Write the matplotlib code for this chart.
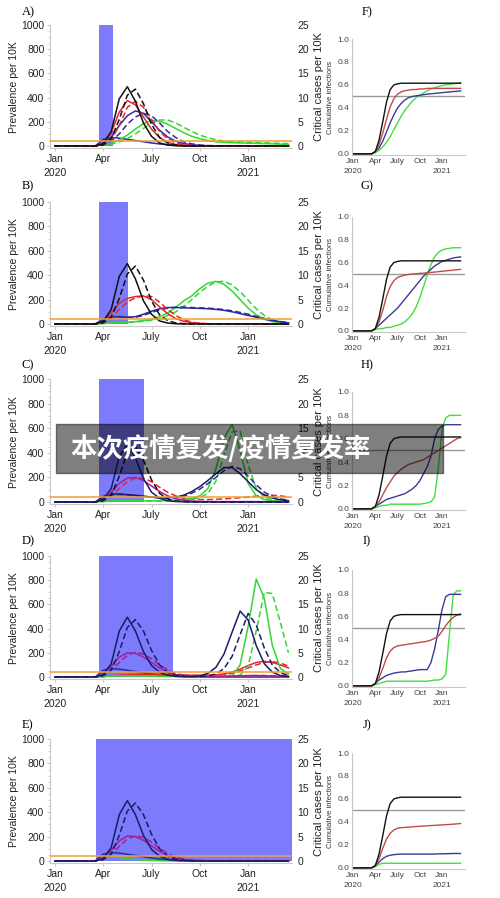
import numpy as np
import matplotlib
matplotlib.use('Agg')
import matplotlib.pyplot as plt
from matplotlib.patches import Rectangle
from matplotlib.ticker import MultipleLocator

plt.rcParams['font.family'] = ['Liberation Sans', 'DejaVu Sans']

# time in months since Jan 2020
months = [0, 2.5, 3.0, 3.5, 4.0, 4.5, 5.0, 5.5, 6.0, 6.5, 7.0, 7.5, 8.0, 8.5,
          9.0, 9.5, 10.0, 10.5, 11.0, 11.5, 12.0, 12.5, 13.0, 13.5, 14.0, 14.5]
tick_pos = [0, 3, 6, 9, 12]
tick_lab = ['Jan\n2020', 'Apr', 'July', 'Oct', 'Jan\n2021']

# lockdown windows (months)
lock_start = [2.76, 2.76, 2.76, 2.76, 2.55]
lock_end = [3.6, 4.53, 5.53, 7.33, 14.72]
lock_height = 1000
icu_capacity = 1.1  # critical cases per 10K

# ---- prevalence per 10K, panels A-E ----
a_blk = [0, 0, 20, 120, 390, 490, 370, 190, 80, 25, 8, 2, 0, 0, 0, 0, 0, 0, 0, 0, 0, 0, 0, 0, 0, 0]
a_blk_d = [0, 0, 10, 60, 220, 420, 470, 350, 180, 70, 25, 8, 2, 0, 0, 0, 0, 0, 0, 0, 0, 0, 0, 0, 0, 0]
a_red = [0, 0, 25, 110, 280, 375, 340, 240, 140, 70, 30, 12, 5, 2, 0, 0, 0, 0, 0, 0, 0, 0, 0, 0, 0, 0]
a_red_d = [0, 0, 10, 50, 170, 320, 370, 320, 220, 120, 60, 25, 10, 4, 1, 0, 0, 0, 0, 0, 0, 0, 0, 0, 0, 0]
a_nav = [0, 0, 20, 70, 170, 250, 290, 270, 200, 130, 75, 40, 20, 10, 5, 2, 0, 0, 0, 0, 0, 0, 0, 0, 0, 0]
a_nav_d = [0, 0, 10, 40, 100, 180, 240, 270, 250, 190, 120, 70, 35, 18, 8, 4, 2, 0, 0, 0, 0, 0, 0, 0, 0, 0]
a_grn = [0, 0, 10, 25, 50, 90, 140, 185, 210, 205, 180, 145, 110, 80, 60, 45, 35, 30, 27, 25, 23, 22, 20, 18, 15, 12]
a_grn_d = [0, 0, 5, 15, 35, 60, 100, 145, 190, 215, 215, 190, 155, 120, 90, 68, 52, 42, 36, 32, 30, 28, 26, 24, 22, 20]
small_blue = [0, 0, 55, 70, 65, 55, 45, 35, 25, 17, 11, 7, 4, 2, 1, 0, 0, 0, 0, 0, 0, 0, 0, 0, 0, 0]
small_green = [0, 0, 45, 40, 30, 20, 12, 7, 4, 2, 1, 0, 0, 0, 0, 0, 0, 0, 0, 0, 0, 0, 0, 0, 0, 0]

b_blk = [0, 0, 20, 120, 390, 495, 370, 190, 80, 25, 8, 2, 0, 0, 0, 0, 0, 0, 0, 0, 0, 0, 0, 0, 0, 0]
b_blk_d = [0, 0, 10, 55, 210, 410, 475, 360, 190, 75, 28, 9, 3, 0, 0, 0, 0, 0, 0, 0, 0, 0, 0, 0, 0, 0]
b_red = [0, 0, 20, 90, 170, 210, 225, 230, 200, 140, 85, 45, 22, 10, 5, 2, 0, 0, 0, 0, 0, 0, 0, 0, 0, 0]
b_red_d = [0, 0, 10, 50, 120, 180, 215, 230, 225, 180, 120, 70, 35, 15, 6, 2, 0, 0, 0, 0, 0, 0, 0, 0, 0, 0]
b_nav = [0, 0, 40, 60, 60, 55, 60, 80, 105, 125, 135, 135, 132, 130, 128, 125, 120, 112, 100, 85, 70, 55, 40, 28, 18, 10]
b_nav_d = [0, 0, 30, 55, 60, 55, 55, 70, 95, 115, 130, 138, 138, 135, 132, 130, 125, 118, 108, 95, 80, 62, 46, 32, 20, 12]
b_grn = [0, 0, 5, 10, 12, 15, 20, 28, 40, 60, 90, 135, 190, 230, 290, 335, 350, 325, 270, 200, 130, 75, 40, 20, 10, 5]
b_grn_d = [0, 0, 3, 7, 10, 12, 16, 22, 30, 45, 68, 100, 145, 200, 260, 310, 345, 350, 320, 265, 195, 125, 70, 35, 16, 8]

c_nav = [0, 0, 20, 110, 370, 470, 360, 190, 80, 30, 10, 4, 2, 0, 0, 0, 0, 0, 0, 0, 0, 0, 0, 0, 0, 0]
c_nav_d = [0, 0, 10, 55, 210, 400, 450, 340, 180, 70, 25, 8, 3, 0, 0, 0, 0, 0, 0, 0, 0, 0, 0, 0, 0, 0]
c_mag = [0, 0, 20, 80, 150, 195, 200, 175, 130, 85, 50, 28, 15, 8, 5, 4, 3, 3, 3, 3, 3, 3, 3, 3, 3, 3]
c_red_d = [0, 0, 10, 45, 110, 165, 195, 195, 165, 120, 80, 50, 30, 25, 20, 20, 22, 25, 30, 35, 40, 48, 55, 55, 50, 40]
c_blu = [0, 0, 45, 65, 65, 60, 55, 48, 40, 35, 35, 40, 55, 85, 125, 175, 230, 280, 280, 230, 165, 100, 58, 32, 18, 10]
c_blu_d = [0, 0, 35, 60, 62, 58, 52, 45, 38, 33, 32, 36, 48, 72, 105, 150, 200, 255, 290, 270, 210, 140, 80, 45, 25, 14]
c_grn = [0, 0, 5, 8, 10, 10, 10, 10, 10, 10, 12, 15, 20, 30, 50, 110, 270, 520, 630, 420, 150, 50, 20, 10, 5, 3]
c_grn_d = [0, 0, 3, 5, 7, 8, 8, 8, 8, 8, 10, 12, 15, 22, 35, 70, 170, 380, 570, 580, 300, 110, 40, 15, 6, 3]

d_nav = [0, 0, 20, 110, 380, 495, 380, 210, 95, 40, 15, 5, 2, 3, 10, 30, 80, 190, 370, 545, 470, 260, 110, 40, 12, 4]
d_nav_d = [0, 0, 10, 55, 210, 410, 475, 380, 220, 100, 40, 15, 6, 3, 4, 8, 25, 70, 170, 350, 525, 430, 240, 100, 35, 12]
d_mag = [0, 0, 25, 90, 165, 200, 195, 165, 120, 75, 40, 20, 10, 6, 4, 4, 5, 6, 8, 10, 12, 12, 10, 8, 6, 4]
d_mag_d = [0, 0, 15, 55, 120, 180, 205, 190, 150, 100, 60, 30, 15, 8, 5, 4, 4, 5, 6, 8, 10, 12, 12, 10, 8, 6]
d_red = [0, 0, 5, 10, 15, 18, 20, 22, 22, 20, 18, 16, 15, 14, 14, 15, 18, 25, 40, 65, 95, 120, 130, 120, 100, 75]
d_red_d = [0, 0, 3, 6, 10, 14, 17, 19, 20, 20, 19, 17, 15, 14, 13, 13, 15, 20, 30, 50, 75, 100, 120, 128, 115, 90]
d_grn = [0, 0, 5, 8, 10, 10, 10, 8, 6, 5, 5, 5, 5, 5, 5, 5, 5, 5, 6, 100, 420, 810, 650, 260, 70, 25]
d_grn_d = [0, 0, 3, 6, 8, 8, 8, 7, 6, 5, 5, 5, 5, 5, 5, 5, 5, 5, 6, 15, 90, 380, 700, 690, 450, 200]

e_nav = [0, 0, 20, 110, 380, 495, 380, 210, 95, 40, 15, 5, 2, 1, 0, 0, 0, 0, 0, 0, 0, 0, 0, 0, 0, 0]
e_nav_d = [0, 0, 10, 55, 210, 410, 475, 380, 220, 100, 40, 15, 6, 3, 1, 0, 0, 0, 0, 0, 0, 0, 0, 0, 0, 0]
e_mag = [0, 0, 25, 90, 165, 205, 200, 170, 125, 80, 45, 22, 11, 6, 3, 2, 1, 0, 0, 0, 0, 0, 0, 0, 0, 0]
e_mag_d = [0, 0, 15, 55, 120, 180, 205, 195, 155, 105, 62, 32, 16, 8, 4, 2, 1, 0, 0, 0, 0, 0, 0, 0, 0, 0]

# ---- cumulative infections, panels F-J ----
cum_black = [0, 0, 0.02, 0.12, 0.28, 0.45, 0.56, 0.6, 0.61, 0.615, 0.615, 0.615, 0.615, 0.615, 0.615,
             0.615, 0.615, 0.615, 0.615, 0.615, 0.615, 0.615, 0.615, 0.615, 0.615, 0.615]
f_red = [0, 0, 0.02, 0.08, 0.18, 0.3, 0.41, 0.48, 0.52, 0.54, 0.55, 0.555, 0.56, 0.56, 0.565, 0.565,
         0.57, 0.57, 0.57, 0.57, 0.57, 0.57, 0.57, 0.57, 0.57, 0.57]
f_nav = [0, 0, 0.02, 0.05, 0.11, 0.19, 0.27, 0.34, 0.4, 0.44, 0.47, 0.49, 0.5, 0.505, 0.51, 0.515,
         0.52, 0.523, 0.526, 0.53, 0.533, 0.536, 0.539, 0.542, 0.545, 0.548]
f_grn = [0, 0, 0.01, 0.03, 0.06, 0.1, 0.15, 0.21, 0.27, 0.33, 0.38, 0.42, 0.46, 0.49, 0.51, 0.53,
         0.55, 0.565, 0.575, 0.585, 0.595, 0.6, 0.605, 0.61, 0.615, 0.62]
g_red = [0, 0, 0.02, 0.08, 0.18, 0.3, 0.39, 0.44, 0.47, 0.48, 0.49, 0.495, 0.5, 0.502, 0.505, 0.507,
         0.51, 0.513, 0.516, 0.52, 0.523, 0.527, 0.53, 0.533, 0.537, 0.54]
g_nav = [0, 0, 0.02, 0.05, 0.08, 0.11, 0.14, 0.17, 0.2, 0.24, 0.28, 0.32, 0.36, 0.4, 0.44, 0.48,
         0.51, 0.54, 0.57, 0.59, 0.61, 0.62, 0.63, 0.64, 0.645, 0.65]
g_grn = [0, 0, 0.01, 0.02, 0.02, 0.03, 0.03, 0.04, 0.05, 0.06, 0.08, 0.11, 0.15, 0.21, 0.29, 0.39,
         0.49, 0.58, 0.65, 0.69, 0.71, 0.72, 0.725, 0.73, 0.73, 0.73]
h_red = [0, 0, 0.02, 0.06, 0.12, 0.18, 0.23, 0.28, 0.31, 0.34, 0.36, 0.38, 0.39, 0.4, 0.41, 0.42,
         0.44, 0.46, 0.48, 0.5, 0.52, 0.54, 0.56, 0.58, 0.6, 0.61]
h_nav = [0, 0, 0.02, 0.04, 0.06, 0.08, 0.09, 0.1, 0.11, 0.12, 0.13, 0.15, 0.17, 0.2, 0.24, 0.3,
         0.36, 0.45, 0.6, 0.68, 0.71, 0.72, 0.72, 0.72, 0.72, 0.72]
h_grn = [0, 0, 0.01, 0.02, 0.03, 0.03, 0.04, 0.04, 0.04, 0.04, 0.04, 0.04, 0.04, 0.04, 0.04, 0.045,
         0.05, 0.06, 0.1, 0.35, 0.68, 0.78, 0.8, 0.8, 0.8, 0.8]
i_red = [0, 0, 0.02, 0.07, 0.15, 0.24, 0.3, 0.33, 0.345, 0.35, 0.355, 0.36, 0.365, 0.37, 0.375, 0.38,
         0.385, 0.395, 0.41, 0.43, 0.47, 0.52, 0.56, 0.59, 0.61, 0.62]
i_nav = [0, 0, 0.02, 0.05, 0.07, 0.09, 0.1, 0.11, 0.115, 0.12, 0.12, 0.125, 0.13, 0.135, 0.14, 0.14,
         0.14, 0.2, 0.32, 0.48, 0.66, 0.77, 0.79, 0.79, 0.79, 0.79]
i_grn = [0, 0, 0.01, 0.02, 0.03, 0.04, 0.04, 0.04, 0.04, 0.04, 0.04, 0.04, 0.04, 0.04, 0.04, 0.04,
         0.04, 0.045, 0.05, 0.05, 0.06, 0.1, 0.45, 0.78, 0.82, 0.82]
j_red = [0, 0, 0.02, 0.08, 0.17, 0.25, 0.3, 0.33, 0.345, 0.35, 0.352, 0.355, 0.357, 0.36, 0.362, 0.364,
         0.366, 0.368, 0.37, 0.372, 0.374, 0.376, 0.378, 0.38, 0.383, 0.386]
j_nav = [0, 0, 0.02, 0.05, 0.08, 0.1, 0.11, 0.115, 0.118, 0.12, 0.12, 0.12, 0.12, 0.12, 0.12, 0.12,
         0.12, 0.12, 0.12, 0.122, 0.122, 0.123, 0.124, 0.125, 0.125, 0.125]
j_grn = [0, 0, 0.01, 0.03, 0.04, 0.04, 0.04, 0.04, 0.04, 0.04, 0.04, 0.04, 0.04, 0.04, 0.04, 0.04,
         0.04, 0.04, 0.04, 0.04, 0.04, 0.04, 0.04, 0.04, 0.04, 0.04]

BLK, RED, NAV, GRN = '#111111', '#e5262b', '#3a2a9a', '#33d633'
DNAV, MAG, BLU = '#1c1c66', '#a0209a', '#2a2aa0'
CRED, CNAV, CGRN = '#c24a4a', '#3b3b96', '#3fe03f'

# (series, colour, dashed)
left_panels = [
    ('A)', [(small_blue, BLU, False), (a_grn_d, GRN, True), (a_grn, GRN, False),
            (a_nav_d, NAV, True), (a_nav, NAV, False), (a_red_d, RED, True), (a_red, RED, False),
            (a_blk_d, BLK, True), (a_blk, BLK, False)]),
    ('B)', [(b_grn_d, GRN, True), (b_grn, GRN, False), (b_nav_d, BLU, True), (b_nav, BLU, False),
            (b_red_d, RED, True), (b_red, RED, False), (b_blk_d, BLK, True), (b_blk, BLK, False)]),
    ('C)', [(c_red_d, RED, True), (c_grn_d, GRN, True), (c_grn, GRN, False), (c_blu_d, BLU, True),
            (c_blu, DNAV, False), (c_mag, MAG, False), (c_nav_d, BLK, True), (c_nav, DNAV, False)]),
    ('D)', [(small_blue, BLU, False), (d_red_d, RED, True), (d_red, RED, False), (d_grn_d, GRN, True),
            (d_grn, GRN, False), (d_mag_d, MAG, True), (d_mag, MAG, False), (d_nav_d, DNAV, True),
            (d_nav, DNAV, False)]),
    ('E)', [(small_green, GRN, False), (small_blue, BLU, False), (e_mag_d, MAG, True),
            (e_mag, MAG, False), (e_nav_d, DNAV, True), (e_nav, DNAV, False)]),
]
right_panels = [
    ('F)', [f_grn, f_nav, f_red]), ('G)', [g_grn, g_nav, g_red]), ('H)', [h_grn, h_nav, h_red]),
    ('I)', [i_grn, i_nav, i_red]), ('J)', [j_grn, j_nav, j_red]),
]

W, H = 500, 898
fig = plt.figure(figsize=(W / 100, H / 100), dpi=100)

def box(x0, x1, ytop, ybot):
    return [x0 / W, 1 - ybot / H, (x1 - x0) / W, (ybot - ytop) / H]

left_top = [25, 202, 379, 556, 739]
left_zero = [146, 324, 502, 677, 861]
right_top = [39, 217, 392, 570, 753]
right_zero = [154, 331, 509, 686, 868]
letter_y = [12, 186, 365, 541, 725]
SPINE = '#c8c8c8'

for k, (letter, series) in enumerate(left_panels):
    y1, y0 = left_top[k], left_zero[k]
    ax = fig.add_axes(box(50, 292, y1, y0 + 20 * (y0 - y1) / 1000))
    ax.bar(lock_start[k], lock_height, width=lock_end[k] - lock_start[k], align='edge',
           color='#7b7bfb', zorder=1)
    for vals, col, dashed in series:
        ax.plot(months, vals, color=col, lw=1.1, ls=(0, (4, 2)) if dashed else '-', zorder=2)
    ax.set_xlim(-0.3, 14.72)
    ax.set_ylim(-20, 1000)
    ax.set_yticks(range(0, 1001, 200))
    ax.yaxis.set_minor_locator(MultipleLocator(50))
    ax.set_xticks(tick_pos)
    ax.set_xticklabels(tick_lab)
    for lbl in ax.get_xticklabels():
        lbl.set_linespacing(1.55)
    ax.tick_params(labelsize=7.5, length=2, color=SPINE, labelcolor='#222222', pad=2)
    ax.tick_params(which='minor', length=1.5, color=SPINE)
    for s in ['top', 'right']:
        ax.spines[s].set_visible(False)
    for s in ['left', 'bottom']:
        ax.spines[s].set_color(SPINE)
    ax.set_ylabel('Prevalence per 10K', fontsize=7.5, color='#222222')
    ax.yaxis.set_label_coords(-0.128, 0.5)

    ax2 = ax.twinx()
    ax2.axhline(icu_capacity, color='#f0a030', lw=1.1, zorder=3)
    ax2.set_ylim(-0.5, 25)
    ax2.set_yticks(range(0, 26, 5))
    ax2.tick_params(labelsize=7.5, length=0, labelcolor='#222222', pad=4)
    for s in ['top', 'left', 'bottom', 'right']:
        ax2.spines[s].set_visible(False)
    ax2.set_ylabel('Critical cases per 10K', fontsize=8, color='#222222')
    ax2.yaxis.set_label_coords(1.092, 0.5)

    fig.text(22 / W, 1 - letter_y[k] / H, letter, fontsize=9, va='center',
             family=['Liberation Serif', 'DejaVu Serif'])

for k, (letter, series) in enumerate(right_panels):
    ax = fig.add_axes(box(352, 465, right_top[k], right_zero[k] + 1))
    ax.axhline(0.5, color='#9a9a9a', lw=1.0, zorder=1)
    for vals, col in zip(series, [CGRN, CNAV, CRED]):
        ax.plot(months, vals, color=col, lw=1.0, zorder=2)
    ax.plot(months, cum_black, color=BLK, lw=1.0, zorder=2)
    ax.set_xlim(-0.15, 15.1)
    ax.set_ylim(-0.01, 1.0)
    ax.set_yticks(np.arange(0, 1.01, 0.2))
    ax.set_yticklabels(['0.0', '0.2', '0.4', '0.6', '0.8', '1.0'])
    ax.set_xticks(tick_pos)
    ax.set_xticklabels(tick_lab)
    for lbl in ax.get_xticklabels():
        lbl.set_linespacing(1.6)
    ax.tick_params(labelsize=6, length=0, labelcolor='#444444', pad=2)
    for s in ['top', 'right']:
        ax.spines[s].set_visible(False)
    for s in ['left', 'bottom']:
        ax.spines[s].set_color(SPINE)
    ax.set_ylabel('Cumulative infections', fontsize=5.5, color='#333333')
    ax.yaxis.set_label_coords(-0.155, 0.5)
    fig.text(367 / W, 1 - letter_y[k] / H, letter, fontsize=9, va='center', ha='center',
             family=['Liberation Serif', 'DejaVu Serif'])

# watermark banner
fig.patches.append(Rectangle((56 / W, 1 - 473 / H), (443 - 56) / W, 49 / H,
                             transform=fig.transFigure, color='black', alpha=0.5, zorder=10))
fig.text(70 / W, 1 - 449 / H, '本次疫情复发/疫情复发率', color='white', fontsize=19,
         fontweight='bold', va='center', zorder=11,
         family=['Noto Sans CJK SC', 'DejaVu Sans'])

fig.savefig('out.png', dpi=100)
